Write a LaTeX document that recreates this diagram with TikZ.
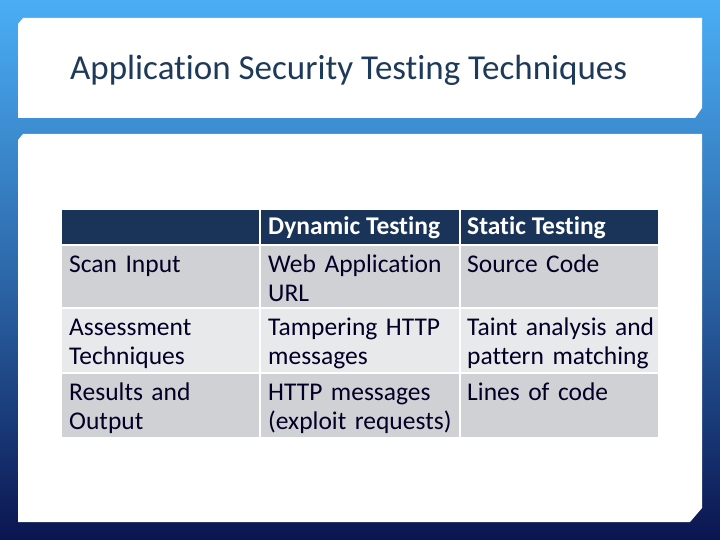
\documentclass[tikz,border=0pt]{standalone}
\usepackage{fontspec}
\setmainfont[Ligatures={NoCommon}]{Carlito}
\begin{document}
\begin{tikzpicture}[x=1pt,y=-1pt,
  panel/.style={fill=white},
  cell/.style={anchor=north west,align=left,text width=190pt,inner sep=0pt,font=\fontsize{25.5}{29}\selectfont,text=black!85!blue},
  hcell/.style={anchor=north west,inner sep=0pt,font=\fontsize{25.5}{29}\selectfont\bfseries,text=white}]
\definecolor{bgtop}{HTML}{4AAEF5}
\definecolor{bgbot}{HTML}{0A1550}
\definecolor{hdr}{HTML}{1A3459}
\definecolor{rowA}{HTML}{CFD1D5}
\definecolor{rowB}{HTML}{E8E9EB}
\definecolor{ttl}{HTML}{1E3A5A}
\useasboundingbox (0,0) rectangle (720,540);
\shade[top color=bgtop,bottom color=bgbot,middle color=bgtop!55!bgbot] (0,0) rectangle (720,540);
\fill[panel] (23,18) -- (702,18) -- (702,108) -- (695,118) -- (18,118) -- (18,24) -- cycle;
\fill[panel] (23,134) -- (702,134) -- (702,508) -- (690,522) -- (18,522) -- (18,140) -- cycle;
\node[anchor=west,inner sep=0pt,font=\fontsize{35}{38}\selectfont,text=ttl] (title) at (70,70) {Application Security Testing Techniques};
% table
\fill[hdr] (62,210) rectangle (259,244);
\fill[hdr] (261,210) rectangle (459,244);
\fill[hdr] (461,210) rectangle (658,244);
\foreach \y/\h/\c in {246/307/rowA,309/372/rowB,374/437/rowA}{
  \fill[\c] (62,\y) rectangle (259,\h);
  \fill[\c] (261,\y) rectangle (459,\h);
  \fill[\c] (461,\y) rectangle (658,\h);}
\node[hcell,anchor=base west] (h2) at (268,235) {Dynamic Testing};
\node[hcell,anchor=base west] (h3) at (467,235) {Static Testing};
\node[cell,anchor=base west] (a1) at (69,272) {Scan Input};
\node[cell,anchor=base west] (a2) at (268,272) {Web Application\\URL};
\node[cell,anchor=base west] (a3) at (467,272) {Source Code};
\node[cell,anchor=base west] (b1) at (69,335) {Assessment\\Techniques};
\node[cell,anchor=base west] (b2) at (268,335) {Tampering HTTP\\messages};
\node[cell,anchor=base west] (b3) at (467,335) {Taint analysis and\\pattern matching};
\node[cell,anchor=base west] (c1) at (69,400) {Results and\\Output};
\node[cell,anchor=base west] (c2) at (268,400) {HTTP messages\\(exploit requests)};
\node[cell,anchor=base west] (c3) at (467,400) {Lines of code};
\end{tikzpicture}
\end{document}
